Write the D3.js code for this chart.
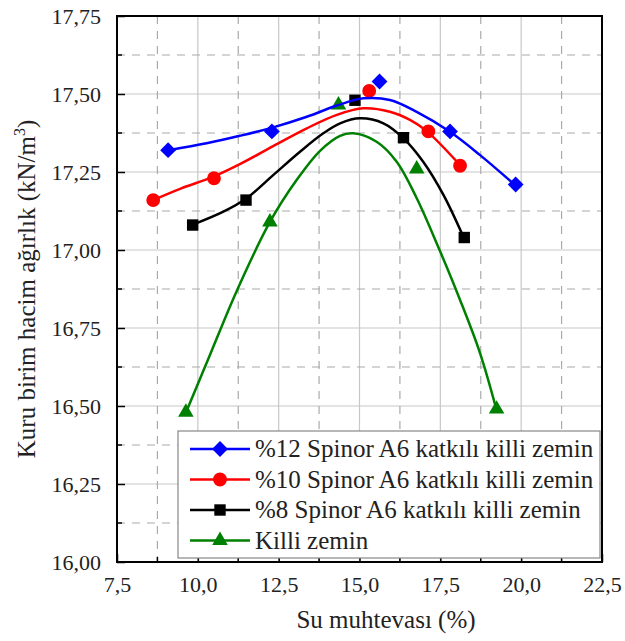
<!DOCTYPE html>
<html>
<head>
<meta charset="utf-8">
<script src="https://cdn.jsdelivr.net/npm/d3@7"></script>
<style>
  body { margin: 0; background: #fff; }
</style>
</head>
<body>
<div id="chart"></div>
<script>
  // data
  const seriesNames = [
    "%12 Spinor A6 katkılı killi zemin",
    "%10 Spinor A6 katkılı killi zemin",
    "%8 Spinor A6 katkılı killi zemin",
    "Killi zemin"
  ]
  const seriesColors = ["#0000ff", "#ff0000", "#000000", "#008000"]
  const seriesSymbols = ["diamond", "circle", "square", "triangle"]

  // measured points
  const x12 = [9.08, 12.29, 15.62, 17.80, 19.83]
  const y12 = [17.32, 17.38, 17.54, 17.38, 17.21]
  const x10 = [8.62, 10.50, 15.30, 17.13, 18.11]
  const y10 = [17.16, 17.23, 17.51, 17.38, 17.27]
  const x8 = [9.84, 11.49, 14.86, 16.36, 18.24]
  const y8 = [17.08, 17.16, 17.48, 17.36, 17.04]
  const x0 = [9.63, 12.23, 14.35, 16.77, 19.24]
  const y0 = [16.48, 17.09, 17.465, 17.26, 16.49]

  // fitted trend curves
  const fitX12 = [9.09, 10.27, 11.3, 12.33, 13.37, 14.3, 15.12, 15.94, 16.77, 17.8, 18.73, 19.81]
  const fitY12 = [17.32, 17.342, 17.366, 17.393, 17.427, 17.463, 17.486, 17.481, 17.443, 17.379, 17.304, 17.208]
  const fitX10 = [8.62, 9.45, 10.48, 11.3, 12.33, 13.37, 14.3, 15.12, 15.94, 16.56, 17.08, 18.11]
  const fitY10 = [17.16, 17.196, 17.235, 17.275, 17.333, 17.39, 17.433, 17.454, 17.443, 17.417, 17.381, 17.272]
  const fitX8 = [9.81, 10.79, 11.51, 12.33, 13.16, 13.88, 14.4, 15.02, 15.74, 16.36, 16.97, 17.6, 18.21]
  const fitY8 = [17.08, 17.123, 17.166, 17.24, 17.315, 17.374, 17.406, 17.422, 17.406, 17.358, 17.283, 17.176, 17.043]
  const fitX0 = [9.6, 10.38, 11.2, 12.23, 13.06, 13.78, 14.4, 14.81, 15.53, 16.15, 16.77, 17.39, 18.11, 18.73, 19.24]
  const fitY0 = [16.471, 16.665, 16.868, 17.09, 17.225, 17.318, 17.366, 17.374, 17.347, 17.283, 17.166, 17.021, 16.84, 16.669, 16.487]

  const xTicks = [7.5, 10, 12.5, 15, 17.5, 20, 22.5]
  const yTicks = [16, 16.25, 16.5, 16.75, 17, 17.25, 17.5, 17.75]

  const xsAll = [x12, x10, x8, x0]
  const ysAll = [y12, y10, y8, y0]
  const fxAll = [fitX12, fitX10, fitX8, fitX0]
  const fyAll = [fitY12, fitY10, fitY8, fitY0]

  const serif = '"Liberation Serif"'

  // set the dimensions and margins of the graph
  const margin = {top: 16, right: 23, bottom: 79, left: 117},
      width = 625 - margin.left - margin.right,
      height = 641 - margin.top - margin.bottom;

  const svg = d3.select("#chart")
    .append("svg")
      .attr("width", width + margin.left + margin.right)
      .attr("height", height + margin.top + margin.bottom)
    .append("g")
      .attr("transform", `translate(${margin.left}, ${margin.top})`);

  const x = d3.scaleLinear().domain([7.5, 22.5]).range([0, width]);
  const y = d3.scaleLinear().domain([16, 17.75]).range([height, 0]);

  // minor positions half way between the labelled ticks
  const xMinor = d3.range(7.5, 22.51, 1.25).filter(v => !xTicks.includes(v))
  const yMinor = d3.range(16, 17.751, 0.125).filter(v => !yTicks.includes(v))

  // grid
  svg.append("g").selectAll("line")
    .data(xTicks.slice(1, -1))
    .join("line")
      .attr("x1", d => x(d)).attr("x2", d => x(d))
      .attr("y1", 0).attr("y2", height)
      .attr("stroke", "#c8c8c8").attr("stroke-width", 1.2);
  svg.append("g").selectAll("line")
    .data(yTicks.slice(1, -1))
    .join("line")
      .attr("y1", d => y(d)).attr("y2", d => y(d))
      .attr("x1", 0).attr("x2", width)
      .attr("stroke", "#c8c8c8").attr("stroke-width", 1.2);
  svg.append("g").selectAll("line")
    .data(xMinor)
    .join("line")
      .attr("x1", d => x(d)).attr("x2", d => x(d))
      .attr("y1", 0).attr("y2", height)
      .attr("stroke", "#aaa").attr("stroke-width", 1.2)
      .attr("stroke-dasharray", "8,7");
  svg.append("g").selectAll("line")
    .data(yMinor)
    .join("line")
      .attr("y1", d => y(d)).attr("y2", d => y(d))
      .attr("x1", 0).attr("x2", width)
      .attr("stroke", "#aaa").attr("stroke-width", 1.2)
      .attr("stroke-dasharray", "8,7");

  // axes, ticks pointing inward
  const fmt = d => d3.format(".1f")(d).replace(".", ",")
  const fmtY = d => d3.format(".2f")(d).replace(".", ",")

  const gx = svg.append("g")
    .attr("transform", `translate(0, ${height})`)
    .call(d3.axisBottom(x).tickValues(xTicks).tickFormat(fmt).tickSizeInner(-8).tickSizeOuter(0).tickPadding(14));
  gx.append("g").selectAll("line")
    .data(xMinor).join("line")
      .attr("x1", d => x(d)).attr("x2", d => x(d))
      .attr("y1", 0).attr("y2", -5)
      .attr("stroke", "#000").attr("stroke-width", 1.5);

  const gy = svg.append("g")
    .call(d3.axisLeft(y).tickValues(yTicks).tickFormat(fmtY).tickSizeInner(-8).tickSizeOuter(0).tickPadding(16));
  gy.append("g").selectAll("line")
    .data(yMinor).join("line")
      .attr("y1", d => y(d)).attr("y2", d => y(d))
      .attr("x1", 0).attr("x2", 5)
      .attr("stroke", "#000").attr("stroke-width", 1.5);

  svg.selectAll(".tick line").attr("stroke-width", 1.5);
  svg.selectAll(".domain").remove();
  svg.selectAll(".tick text")
    .style("font-family", serif)
    .style("font-size", "22px")
    .attr("fill", "#222");

  // frame
  svg.append("rect")
    .attr("width", width).attr("height", height)
    .attr("fill", "none").attr("stroke", "#000").attr("stroke-width", 2);

  const symbolType = {
    diamond: d3.symbolSquare, circle: d3.symbolCircle,
    square: d3.symbolSquare, triangle: d3.symbolTriangle
  }
  const symbolSize = {diamond: 125, circle: 150, square: 130, triangle: 105}
  const symbolRot = {diamond: 45, circle: 0, square: 0, triangle: 0}

  const line = d3.line()
    .curve(d3.curveCatmullRom.alpha(0.5))
    .x(d => x(d[0])).y(d => y(d[1]))

  // draw from the bottom series up so blue sits on top
  for (let s = 3; s >= 0; s--) {
    const xs = xsAll[s], ys = ysAll[s], sym = seriesSymbols[s]
    svg.append("path")
      .datum(fxAll[s].map((v, i) => [v, fyAll[s][i]]))
      .attr("fill", "none")
      .attr("stroke", seriesColors[s])
      .attr("stroke-width", 2.5)
      .attr("d", line);
    svg.append("g").selectAll("path")
      .data(xs.map((v, i) => [v, ys[i]]))
      .join("path")
        .attr("transform", d => `translate(${x(d[0])}, ${y(d[1])}) rotate(${symbolRot[sym]})`)
        .attr("d", d3.symbol().type(symbolType[sym]).size(symbolSize[sym]))
        .attr("fill", seriesColors[s]);
  }

  // legend
  const lg = svg.append("g").attr("transform", "translate(61, 415)")
  lg.append("rect")
    .attr("width", 422).attr("height", 127)
    .attr("fill", "#fff").attr("stroke", "#888").attr("stroke-width", 1.2);
  seriesNames.forEach((name, i) => {
    const sym = seriesSymbols[i]
    const row = lg.append("g").attr("transform", `translate(0, ${18 + i * 30.5})`)
    row.append("line")
      .attr("x1", 12).attr("x2", 72)
      .attr("stroke", seriesColors[i]).attr("stroke-width", 2.5);
    row.append("path")
      .attr("transform", `translate(42, 0) rotate(${symbolRot[sym]})`)
      .attr("d", d3.symbol().type(symbolType[sym]).size(symbolSize[sym]))
      .attr("fill", seriesColors[i]);
    row.append("text")
      .attr("x", 77).attr("y", 8)
      .style("font-family", serif)
      .style("font-size", "25px")
      .attr("fill", "#222")
      .text(name);
  });

  // axis titles
  svg.append("text")
    .attr("x", 269).attr("y", height + 66)
    .attr("text-anchor", "middle")
    .style("font-family", serif)
    .style("font-size", "25px")
    .attr("fill", "#222")
    .text("Su muhtevası (%)");

  const yt = svg.append("text")
    .attr("transform", `translate(${-82}, ${height / 2}) rotate(-90)`)
    .attr("text-anchor", "middle")
    .style("font-family", serif)
    .style("font-size", "25px")
    .attr("fill", "#222");
  yt.append("tspan").text("Kuru birim hacim ağırlık (kN/m");
  yt.append("tspan").attr("dy", -10).style("font-size", "16px").text("3");
  yt.append("tspan").attr("dy", 10).text(")");
</script>
</body>
</html>
